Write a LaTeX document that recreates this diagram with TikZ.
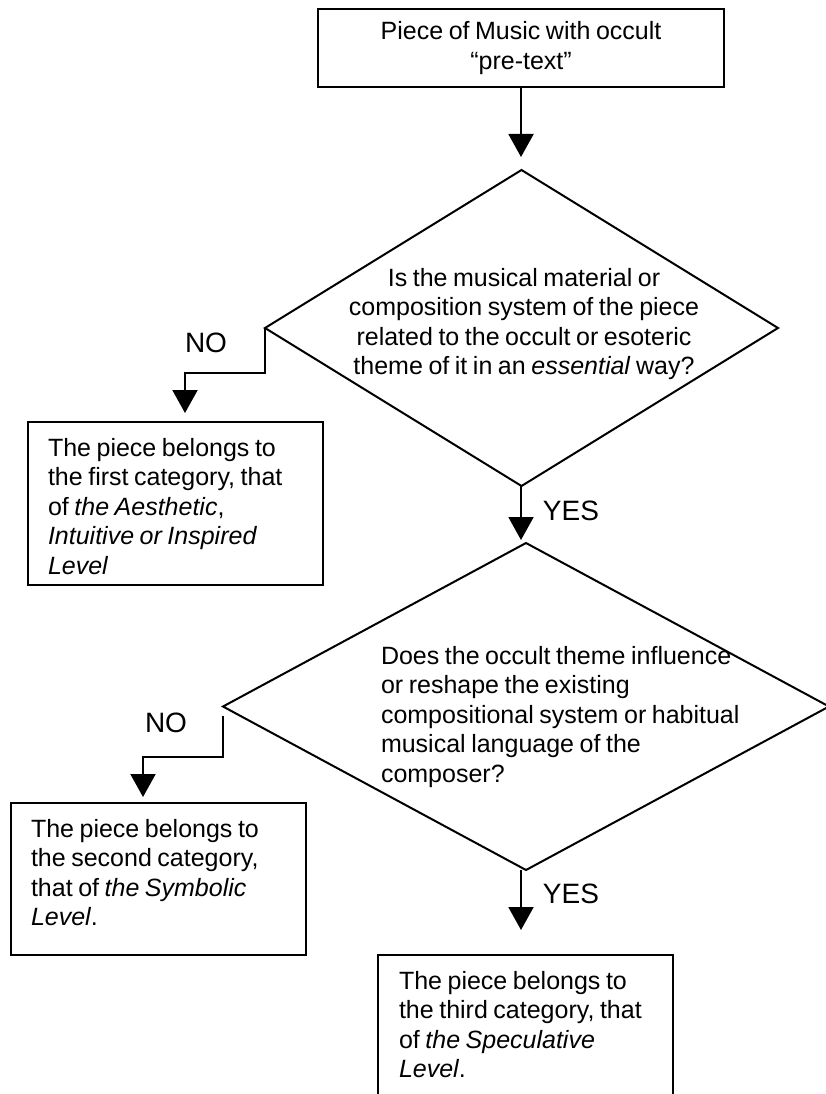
\documentclass[tikz,border=0pt]{standalone}
\usepackage{fontspec}
\setmainfont{Liberation Sans}[WordSpace=0.8]
\usetikzlibrary{shapes.geometric,arrows.meta}

\begin{document}
\begin{tikzpicture}[x=1pt,y=-1pt,line width=2pt,
    box/.style={draw,rectangle,inner sep=0pt,outer sep=0pt},
    decision/.style={draw,diamond,inner sep=0pt,outer sep=0pt},
    txt/.style={inner sep=0pt,font=\fontsize{25}{29.5}\selectfont},
    lbl/.style={inner sep=0pt,font=\fontsize{28}{32}\selectfont},
    arr/.style={-{Triangle[width=25pt,length=23pt]}}]
    \useasboundingbox (0,0) rectangle (826,1094);
    \clip (0,0) rectangle (826,1094);

    % start and the two questions
    \node[box,txt,align=center,minimum width=406pt,minimum height=78pt] (start) at (521,48)
        {Piece of Music with occult\\“pre-text”};
    \node[decision,minimum width=513pt,minimum height=316pt] (d1) at (521.5,328) {};
    \node[txt,align=center] (q1) at (524,324)
        {Is the musical material or\\composition system of the piece\\related to the occult or esoteric\\theme of it in an \textit{essential} way?};
    \node[decision,minimum width=606pt,minimum height=327pt] (d2) at (526,706.5) {};
    \node[txt,align=left,anchor=west] (q2) at (380,717)
        {Does the occult theme influence\\or reshape the existing\\compositional system or habitual\\musical language of the\\composer?};

    % the three categories
    \node[box,minimum width=295pt,minimum height=163pt] (b1) at (175.5,503.5) {};
    \node[txt,align=left,anchor=north west] (t1) at ([shift={(19,15)}]b1.north west)
        {The piece belongs to\\the first category, that\\of \textit{the Aesthetic},\\\textit{Intuitive or Inspired}\\\textit{Level}};
    \node[box,minimum width=295pt,minimum height=152pt] (b2) at (158.5,879) {};
    \node[txt,align=left,anchor=north west] (t2) at ([shift={(19,15)}]b2.north west)
        {The piece belongs to\\the second category,\\that of \textit{the Symbolic}\\\textit{Level}.};
    \node[box,minimum width=295pt,minimum height=180pt] (b3) at (525.5,1045) {};
    \node[txt,align=left,anchor=north west] (t3) at ([shift={(20,15)}]b3.north west)
        {The piece belongs to\\the third category, that\\of \textit{the Speculative}\\\textit{Level}.};

    % connectors
    \draw[arr,shorten >=13pt] (start.south) -- (start.south |- d1.north);
    \draw[arr,shorten >=3pt] (start.south |- d1.south) -- (start.south |- d2.north);
    \draw[arr,shorten >=9pt] (d1.west) -- ++(0,45) -| ([xshift=9.5pt]b1.north);
    \draw[arr,shorten <=9pt,shorten >=6pt] (d2.west) -- ++(0,50.5) -| ([xshift=-15.5pt]b2.north);
    \draw[arr,shorten >=25pt] (start.south |- d2.south) -- (start.south |- b3.north);

    \node[lbl] (no1) at (206,343) {NO};
    \node[lbl] (yes1) at (571,511) {YES};
    \node[lbl] (no2) at (166,723) {NO};
    \node[lbl] (yes2) at (571,894) {YES};
\end{tikzpicture}
\end{document}
